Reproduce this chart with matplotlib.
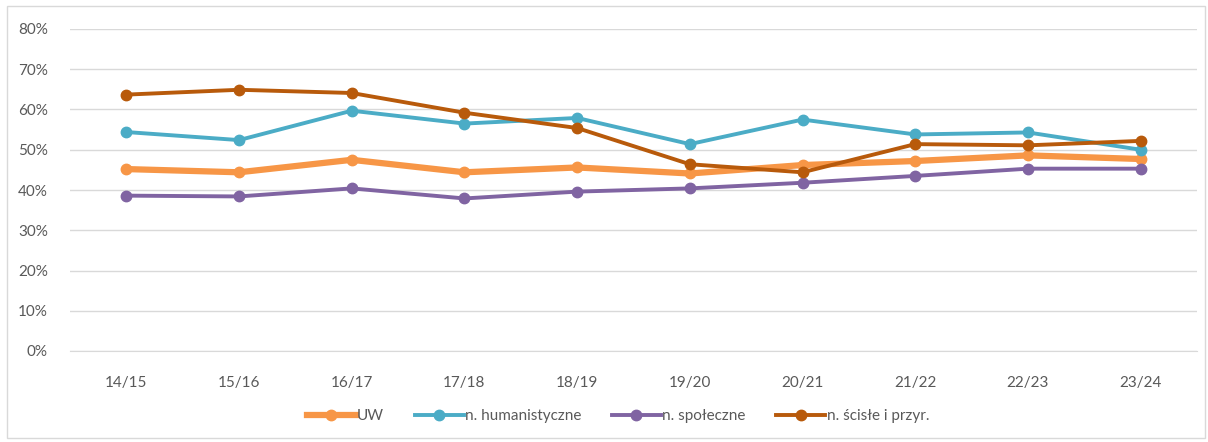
import matplotlib
matplotlib.use("Agg")
import matplotlib.pyplot as plt
from matplotlib.patches import Rectangle
from matplotlib.ticker import FuncFormatter

years = ["14/15", "15/16", "16/17", "17/18", "18/19", "19/20", "20/21", "21/22", "22/23", "23/24"]
uw = [45.2, 44.4, 47.5, 44.4, 45.6, 44.1, 46.2, 47.2, 48.6, 47.7]
humanistyczne = [54.4, 52.4, 59.7, 56.5, 57.9, 51.4, 57.5, 53.8, 54.3, 50.0]
spoleczne = [38.6, 38.4, 40.4, 37.9, 39.6, 40.4, 41.8, 43.5, 45.3, 45.3]
scisle = [63.7, 64.9, 64.1, 59.2, 55.4, 46.4, 44.4, 51.4, 51.1, 52.2]

labels = ["UW", "n. humanistyczne", "n. społeczne", "n. ścisłe i przyr."]
colors = ["#F79646", "#4BACC6", "#8064A2", "#B85A0B"]

plt.rcParams['font.family'] = ['Lato', 'DejaVu Sans']

fig = plt.figure(figsize=(12.08, 4.42), dpi=100)
fig.patches.append(Rectangle((7/1208, 1-438/442), (1205-7)/1208, (438-6)/442,
                             transform=fig.transFigure, fill=False,
                             edgecolor="#D9D9D9", linewidth=1))
ax = fig.add_axes([70/1208, 1-351/442, (1197-70)/1208, (351-29)/442])

x = list(range(len(years)))
series = [uw, humanistyczne, spoleczne, scisle]
widths = [4.5, 2.8, 2.8, 2.8]
for s, lab, c, w in zip(series, labels, colors, widths):
    ax.plot(x, s, color=c, linewidth=w, marker='o', markersize=7.5,
            label=lab, solid_joinstyle='round', zorder=3)

ax.set_xlim(-0.5, 9.5)
ax.set_ylim(0, 80)
ax.set_yticks(range(0, 81, 10))
ax.yaxis.set_major_formatter(FuncFormatter(lambda v, p: f"{int(v)}%"))
ax.set_xticks(x)
ax.set_xticklabels(years)
ax.grid(axis='y', color="#D9D9D9", linewidth=1)
ax.set_axisbelow(True)
for sp in ["top", "right", "left"]:
    ax.spines[sp].set_visible(False)
ax.spines["bottom"].set_color("#D9D9D9")
ax.tick_params(axis='both', length=0, labelsize=11, colors="#595959")
ax.tick_params(axis='y', pad=16)
ax.tick_params(axis='x', pad=18)

fig.legend(loc='center', bbox_to_anchor=(618/1208, 1-416/442), ncol=4,
           frameon=False, fontsize=11, labelcolor="#595959",
           handlelength=3.2, handletextpad=0.1, columnspacing=2.0)

fig.savefig("out.png", dpi=100)
